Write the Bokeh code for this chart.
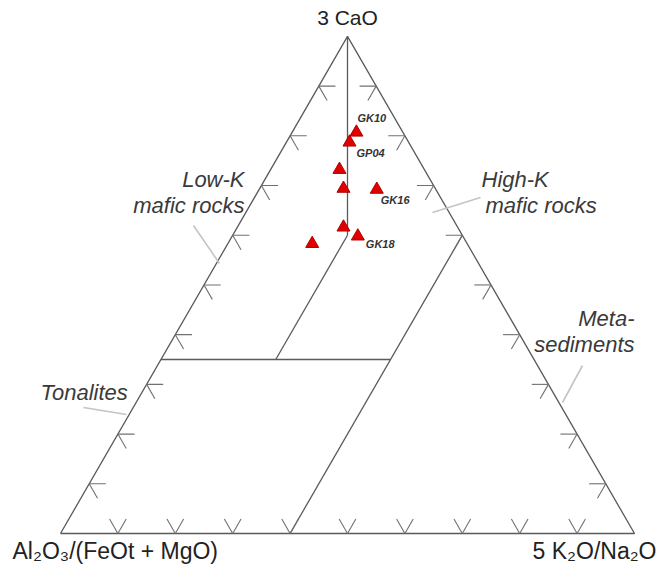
import math
from bokeh.plotting import figure
from bokeh.models import Range1d, ColumnDataSource
from bokeh.core.properties import value
from bokeh.embed import file_html
from bokeh.resources import INLINE

# ---------------- data (percent of the ternary sum) ----------------
sample_names = ["GK10", "GP04", "", "", "GK16", "", "GK18", ""]
cao_3 = [80.7, 78.7, 73.2, 69.4, 69.2, 61.6, 59.8, 58.3]          # 3 CaO
k2o_na2o_5 = [11.2, 11.0, 12.0, 14.6, 20.5, 18.5, 21.9, 14.7]     # 5 K2O/Na2O
al_fm = [100 - a - b for a, b in zip(cao_3, k2o_na2o_5)]          # Al2O3/(FeOt+MgO)

tick_values = [0.1, 0.2, 0.3, 0.4, 0.5, 0.6, 0.7, 0.8, 0.9]

# field boundaries given as (Al/FM, CaO, K/Na) fractions
boundaries = [
    [(0.0, 1.0, 0.0), (0.2, 0.6, 0.2)],
    [(0.2, 0.6, 0.2), (0.45, 0.35, 0.2)],
    [(0.65, 0.35, 0.0), (0.25, 0.35, 0.4)],
    [(0.6, 0.0, 0.4), (0.0, 0.6, 0.4)],
]

field_names = ["Low-K\nmafic rocks", "High-K\nmafic rocks", "Meta-\nsediments", "Tonalites"]

S3 = math.sqrt(3) / 2


def tern(a, b, c):
    s = a + b + c
    b, c = b / s, c / s
    return c + b / 2, b * S3


# picture pixel -> data (1 data unit = 574 px, origin at pixel (60, 533))
def win(wx, wy):
    return (wx - 60) / 574, (533 - wy) / 574


W, H = 660, 566
p = figure(width=W, height=H,
           x_range=Range1d(-60 / 574, (W - 60) / 574),
           y_range=Range1d((533 - H) / 574, 533 / 574),
           output_backend="svg", toolbar_location=None, min_border=0,
           x_axis_location=None, y_axis_location=None)
p.grid.visible = False
p.outline_line_color = None
p.background_fill_color = "white"

LINE = "#5a5a5a"

# outer triangle
corners = [tern(1, 0, 0), tern(0, 1, 0), tern(0, 0, 1), tern(1, 0, 0)]
p.line([c[0] for c in corners], [c[1] for c in corners], line_color=LINE, line_width=1.3)

# boundaries
bx, by = [], []
for seg in boundaries:
    pts = [tern(*q) for q in seg]
    bx.append([q[0] for q in pts])
    by.append([q[1] for q in pts])
p.multi_line(bx, by, line_color=LINE, line_width=1.3)

# tick marks
L = 0.029
tx, ty = [], []
for t in tick_values:
    x0, y0 = tern(1 - t, 0, t)
    for dx, dy in [(0.5, S3), (-0.5, S3)]:
        tx.append([x0, x0 + L * dx]); ty.append([y0, y0 + L * dy])
    x0, y0 = tern(1 - t, t, 0)
    for dx, dy in [(1, 0), (0.5, -S3)]:
        tx.append([x0, x0 + L * dx]); ty.append([y0, y0 + L * dy])
    x0, y0 = tern(0, t, 1 - t)
    for dx, dy in [(-1, 0), (-0.5, -S3)]:
        tx.append([x0, x0 + L * dx]); ty.append([y0, y0 + L * dy])
p.multi_line(tx, ty, line_color="#707070", line_width=1.1)

# leader lines (light gray)
leaders = [((193, 225), (219, 263)), ((480, 197), (432, 212)),
           ((582, 365), (562, 402)), ((83, 407), (126, 414))]
lx, ly = [], []
for (a, b) in leaders:
    p1, p2 = win(*a), win(*b)
    lx.append([p1[0], p2[0]]); ly.append([p1[1], p2[1]])
p.multi_line(lx, ly, line_color="#c4c4c4", line_width=1.6)

# field labels
FONT = value("Liberation Sans")
field_pos = [(244, 179, "right"), (481, 179, "left"), (634, 318, "right"), (40, 392, "left")]
for name, (wx, wy, al) in zip(field_names, field_pos):
    for i, line in enumerate(name.split("\n")):
        x, y = win(wx + (0 if al == "right" or i == 0 else 4), wy + 26 * i)
        p.text([x], [y], text=[line], text_font=FONT, text_font_style="italic",
               text_font_size="22px", text_color="#3a3a3a", text_align=al,
               text_baseline="middle")

# data points
pts = [tern(a, b, c) for a, b, c in zip(al_fm, cao_3, k2o_na2o_5)]
src = ColumnDataSource(dict(x=[q[0] for q in pts], y=[q[1] for q in pts], name=sample_names,
                            xo=[1, 7, 0, 0, 4, 0, 8, 0], yo=[-14, 11, 0, 0, 10, 0, 8, 0]))
p.scatter("x", "y", source=src, marker="triangle", size=13,
          fill_color="#e00000", line_color="#b00000", line_width=1)
p.text("x", "y", text="name", source=src, x_offset="xo", y_offset="yo",
       text_font=FONT, text_font_style="bold italic", text_font_size="11px",
       text_color="#333333", text_baseline="middle", text_align="left")

# axis titles
ax, ay = tern(0, 1, 0)
p.text([ax], [ay + 19 / 574], text=["3 CaO"], text_font=FONT, text_font_size="21px",
       text_color="#222222", text_align="center", text_baseline="middle")
x, y = win(12, 550)
p.text([x], [y], text=["Al₂O₃/(FeOt + MgO)"], text_font=FONT, text_font_size="23px",
       text_color="#222222", text_align="left", text_baseline="middle")
x, y = win(656, 550)
p.text([x], [y], text=["5 K₂O/Na₂O"], text_font=FONT, text_font_size="23px",
       text_color="#222222", text_align="right", text_baseline="middle")

open("out.html", "w").write(file_html(p, INLINE))
